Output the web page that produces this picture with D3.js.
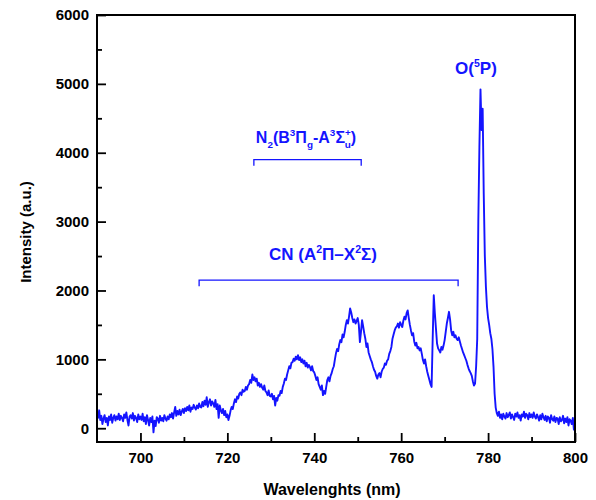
<!DOCTYPE html>
<html>
<head>
<meta charset="utf-8">
<script src="https://cdn.jsdelivr.net/npm/d3@7"></script>
<style>
  body { margin: 0; background: #fff; }
  svg { display: block; }
</style>
</head>
<body>
<svg id="chart" width="596" height="500"></svg>
<script>
// Emission spectrum sampled every 0.25 nm starting at 690 nm
const wavelengthStart = 690;
const wavelengthStep = 0.25;
const intensity = [
  230, 150, 260, 120,   180, 60, 140, 190,    90, 150, 40, 170,     120, 200, 80, 150,
  190, 110, 170, 130,   210, 120, 180, 150,   100, 200, 150, 230,   120, 40, 170, 190,
  140, 220, 110, 180,   150, 90, 200, 130,    170, 120, 210, 100,   160, 60, 190, 120,
  40, 150, 90, 170,     -60, 110, 30, 160,    140, 80, 180, 110,    150, 100, 190, 140,
  110, 170, 130, 200,   160, 220, 140, 230,   310, 180, 250, 200,   270, 190, 240, 280,
  220, 290, 250, 310,   260, 330, 240, 300,   280, 340, 300, 270,   330, 290, 360, 310,
  300, 380, 320, 400,   340, 450, 310, 380,   420, 330, 390, 360,   310, 410, 280, 350,
  150, 330, 260, 220,   280, 190, 250, 160,   200, 120, 180, 260,   310, 280, 360, 420,
  380, 460, 430, 500,   520, 480, 560, 530,   540, 600, 560, 620,   640, 700, 660, 780,
  700, 740, 680, 720,   620, 660, 600, 640,   590, 560, 620, 540,   520, 480, 550, 470,
  460, 500, 420, 470,   330, 440, 400, 480,   470, 540, 510, 600,   650, 720, 700, 780,
  840, 900, 870, 950,   960, 1010, 980, 1040, 1000, 1060, 990, 1030, 960, 1000, 940, 980,
  900, 950, 880, 920,   890, 840, 900, 830,   810, 760, 700, 740,   640, 600, 560, 620,
  480, 540, 500, 600,   700, 740, 680, 760,   800, 860, 900, 1000,  1090, 1150, 1120, 1220,
  1280, 1250, 1360, 1320, 1400, 1500, 1570, 1520, 1620, 1740, 1680, 1600, 1540, 1580, 1520, 1560,
  1600, 1500, 1250, 1400, 1570, 1480, 1380, 1300, 1180, 1230, 1100, 1050, 1000, 960, 900, 850,
  820, 760, 720, 780,   800, 740, 820, 860,   880, 940, 920, 980,   1000, 1080, 1120, 1180,
  1300, 1360, 1420, 1460, 1480, 1520, 1460, 1540, 1500, 1470, 1560, 1620, 1580, 1670, 1710, 1600,
  1500, 1420, 1350, 1380, 1260, 1200, 1240, 1160, 1180, 1130, 1160, 1080, 990, 940, 1000, 900,
  820, 760, 700, 640,   600, 1300, 1930, 1670, 1450, 1230, 1160, 1130, 1100, 1180, 1140, 1200,
  1280, 1400, 1520, 1600, 1690, 1580, 1420, 1350, 1400, 1320, 1350, 1300, 1280, 1320, 1260, 1200,
  1150, 1100, 1060, 1020, 980, 920, 870, 830,   800, 760, 680, 620,   650, 900, 1300, 3000,
  4080, 4920, 4330, 4640, 3400, 2500, 2050, 1760, 1600, 1500, 1380, 1300, 1150, 890, 500, 300,
  220, 180, 240, 150,   200, 130, 210, 170,   140, 220, 160, 190,   230, 140, 200, 160,
  120, 210, 170, 230,   150, 190, 110, 200,   170, 240, 150, 210,   190, 130, 220, 160,
  200, 150, 230, 170,   140, 200, 160, 110,   190, 130, 210, 160,   120, 180, 100, 170,
  150, 80, 190, 130,    110, 170, 90, 150,    140, 60, 160, 100,    120, 180, 70, 140,
  90, 160, 40, 130,     110, 60, 150, -20,
  80
];

const xTicks = [700, 720, 740, 760, 780, 800];
const xMinorTicks = [710, 730, 750, 770, 790];
const yTicks = [0, 1000, 2000, 3000, 4000, 5000, 6000];
const yMinorTicks = [500, 1500, 2500, 3500, 4500, 5500];

// Band annotations: wavelength span and the intensity level of the bracket
const bandNames = ["N2", "CN"];
const bandFrom = [726.1, 713.5];
const bandTo = [750.8, 773.1];
const bandLevel = [3900, 2150];

const xTitle = "Wavelenghts (nm)";
const yTitle = "Intensity (a.u.)";

const svg = d3.select("#chart");
const W = 596, H = 500;
const margin = { top: 15, right: 21, bottom: 58, left: 97 };
const iw = W - margin.left - margin.right;
const ih = H - margin.top - margin.bottom;

const blue = "#1414ff";
const font = "'Liberation Sans', Arial, sans-serif";

const x = d3.scaleLinear().domain([690, 800]).range([0, iw]);
const y = d3.scaleLinear().domain([-200, 6000]).range([ih, 0]);

const g = svg.append("g").attr("transform", `translate(${margin.left},${margin.top})`);

// spectrum trace
const points = intensity.map((v, i) => [wavelengthStart + i * wavelengthStep, v]);
g.append("path")
  .datum(points)
  .attr("fill", "none")
  .attr("stroke", blue)
  .attr("stroke-width", 1.9)
  .attr("stroke-linejoin", "round")
  .attr("d", d3.line().x(d => x(d[0])).y(d => y(d[1])));

// axes with inward ticks
const styleAxis = sel => {
  sel.select(".domain").remove();
  sel.selectAll("line").attr("stroke", "#000").attr("stroke-width", 1.8);
  sel.selectAll("text").attr("font-family", font).attr("font-size", 15)
    .attr("font-weight", "bold").attr("fill", "#000");
};

g.append("g").attr("transform", `translate(0,${ih})`)
  .call(d3.axisBottom(x).tickValues(xTicks).tickSize(-9).tickSizeOuter(0).tickPadding(10).tickFormat(d3.format("d")))
  .call(styleAxis);
g.append("g").attr("transform", `translate(0,${ih})`)
  .call(d3.axisBottom(x).tickValues(xMinorTicks).tickSize(-5).tickSizeOuter(0).tickFormat(""))
  .call(styleAxis);
g.append("g")
  .call(d3.axisLeft(y).tickValues(yTicks).tickSize(-9).tickSizeOuter(0).tickPadding(8).tickFormat(d3.format("d")))
  .call(styleAxis);
g.append("g")
  .call(d3.axisLeft(y).tickValues(yMinorTicks).tickSize(-5).tickSizeOuter(0).tickFormat(""))
  .call(styleAxis);

// frame
g.append("rect")
  .attr("x", 0).attr("y", 0).attr("width", iw).attr("height", ih)
  .attr("fill", "none").attr("stroke", "#000").attr("stroke-width", 2);

// axis titles
svg.append("text")
  .attr("x", margin.left + iw / 2 - 4).attr("y", 495)
  .attr("text-anchor", "middle")
  .attr("font-family", font).attr("font-size", 16).attr("font-weight", "bold")
  .text(xTitle);
svg.append("text")
  .attr("transform", `translate(31,232) rotate(-90)`)
  .attr("text-anchor", "middle")
  .attr("font-family", font).attr("font-size", 15).attr("font-weight", "bold")
  .text(yTitle);

// rich label with sub/superscripts
function richLabel(parent, px, py, parts, size) {
  const t = parent.append("text")
    .attr("x", px).attr("y", py)
    .attr("text-anchor", "middle")
    .attr("font-family", font).attr("font-size", size).attr("font-weight", "bold")
    .attr("fill", blue);
  let shift = 0;
  parts.forEach(p => {
    const target = p.sup ? -size * 0.42 : p.sub ? size * 0.3 : 0;
    const ts = t.append("tspan")
      .attr("dy", target - shift)
      .attr("font-size", (p.sup || p.sub) ? size * 0.62 : size)
      .text(p.t);
    if (p.dx) ts.attr("dx", p.dx);
    shift = target;
  });
  return t;
}

// N2 first positive system label + bracket
richLabel(g, x(738.1), y(4140), [
  { t: "N" }, { t: "2", sub: true }, { t: "(B" }, { t: "3", sup: true }, { t: "Π" },
  { t: "g", sub: true }, { t: "-A" }, { t: "3", sup: true }, { t: "Σ" },
  { t: "+", sup: true }, { t: "u", sub: true, dx: -6 }, { t: ")" }
], 16);

// CN red system label
richLabel(g, x(742), y(2440), [
  { t: "CN (A" }, { t: "2", sup: true }, { t: "Π–X" }, { t: "2", sup: true }, { t: "Σ)" }
], 17);

// atomic oxygen line
richLabel(g, x(777.2), y(5140), [
  { t: "O(" }, { t: "5", sup: true }, { t: "P)" }
], 17);

// brackets marking band ranges
bandNames.forEach((name, i) => {
  const x0 = x(bandFrom[i]), x1 = x(bandTo[i]), yy = y(bandLevel[i]);
  g.append("path")
    .attr("class", "bracket-" + name)
    .attr("d", `M${x0},${yy + 6}V${yy}H${x1}V${yy + 6}`)
    .attr("fill", "none").attr("stroke", blue).attr("stroke-width", 1.3);
});
</script>
</body>
</html>
